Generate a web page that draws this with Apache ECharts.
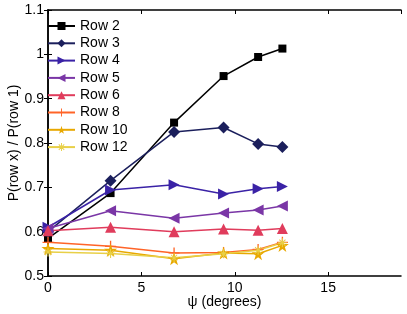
<!DOCTYPE html>
<html><head><meta charset="utf-8">
<script src="https://cdn.jsdelivr.net/npm/echarts@6/dist/echarts.min.js"></script>
<style>html,body{margin:0;padding:0;background:#fff}#c{width:407px;height:314px}</style>
</head><body><div id="c"></div>
<script>
var psi = [0, 3.35, 6.75, 9.4, 11.25, 12.55];
var row2 = [0.585, 0.687, 0.846, 0.951, 0.994, 1.013];
var row3 = [0.600, 0.715, 0.825, 0.835, 0.798, 0.791];
var row4 = [0.610, 0.694, 0.706, 0.685, 0.697, 0.702];
var row5 = [0.607, 0.647, 0.630, 0.642, 0.649, 0.658];
var row6 = [0.602, 0.610, 0.600, 0.606, 0.603, 0.607];
var row8 = [0.576, 0.567, 0.552, 0.553, 0.560, 0.576];
var row10 = [0.562, 0.558, 0.539, 0.552, 0.550, 0.569];
var row12 = [0.554, 0.551, 0.541, 0.550, 0.558, 0.575];
var names = ['Row 2','Row 3','Row 4','Row 5','Row 6','Row 8','Row 10','Row 12'];
var xTicks = [0, 5, 10, 15];
var yTicks = [0.5, 0.6, 0.7, 0.8, 0.9, 1, 1.1];

var STAR = 'path://M50,0L61,35L98,35L68,57L79,91L50,70L21,91L32,57L2,35L39,35Z';
var PLUS = 'path://M4.4,0H5.6V4.4H10V5.6H5.6V10H4.4V5.6H0V4.4H4.4Z';
var AST = 'path://M4.4,0H5.6V4.4H10V5.6H5.6V10H4.4V5.6H0V4.4H4.4ZM1.2,2L2,1.2L8.8,8L8,8.8ZM8,1.2L8.8,2L2,8.8L1.2,8Z';
var styles = [
  {c:'#000000', s:'rect', z:8, r:0},
  {c:'#1b1f5c', s:'diamond', z:12, r:0},
  {c:'#3a22a6', s:'triangle', z:11, r:-90},
  {c:'#7a36a6', s:'triangle', z:11, r:90},
  {c:'#e03c5c', s:'triangle', z:11, r:0},
  {c:'#ff6428', s:PLUS, z:11, r:0},
  {c:'#e8a800', s:STAR, z:13, r:0},
  {c:'#e8d048', s:AST, z:9, r:0}
];
var data = [row2,row3,row4,row5,row6,row8,row10,row12];

var series = data.map(function(arr, i){
  var st = styles[i];
  return {
    name: names[i], type:'line', clip:false,
    data: psi.map(function(x,j){return [x, arr[j]];}),
    symbol: st.s, symbolSize: st.z, symbolRotate: st.r,
    lineStyle:{color:st.c, width:1.5},
    itemStyle:{color:st.c},
    emphasis:{disabled:true}
  };
});

var font = 'Liberation Sans, Arial, Helvetica, sans-serif';
var chart = echarts.init(document.getElementById('c'));
chart.setOption({
  animation:false,
  textStyle:{fontFamily:font},
  grid:{left:48, right:6, top:10, bottom:38, containLabel:false, outerBoundsMode:'none'},
  legend:{
    orient:'vertical', left:47, top:19, padding:0, itemWidth:27, itemHeight:10, itemGap:3.3,
    textStyle:{fontSize:14, color:'#000', fontFamily:font},
    data:names
  },
  xAxis:[{
    type:'value', min:0, max:18.9, interval:5,
    name:'ψ (degrees)', nameLocation:'middle', nameGap:19, nameMoveOverlap:false,
    nameTextStyle:{fontSize:14, color:'#000'},
    axisLine:{lineStyle:{color:'#000', width:1.5}},
    axisTick:{inside:true, length:4, lineStyle:{color:'#000'}},
    axisLabel:{fontSize:14, color:'#000', margin:5, showMaxLabel:false,
      formatter:function(v){return xTicks.indexOf(v)>=0 ? String(v) : '';}},
    splitLine:{show:false}
  },{
    type:'value', position:'top', min:0, max:18.9, interval:5,
    axisLine:{lineStyle:{color:'#000', width:1.5}},
    axisTick:{inside:true, length:4, lineStyle:{color:'#000'}},
    axisLabel:{show:false}, splitLine:{show:false}
  }],
  yAxis:[{
    type:'value', min:0.5, max:1.1, interval:0.1,
    name:'P(row x) / P(row 1)', nameLocation:'middle', nameGap:27, nameMoveOverlap:false,
    nameTextStyle:{fontSize:14, color:'#000'},
    axisLine:{lineStyle:{color:'#000', width:1.5}},
    axisTick:{inside:true, length:4, lineStyle:{color:'#000'}},
    axisLabel:{fontSize:14, color:'#000', margin:4,
      formatter:function(v){return String(Math.round(v*10)/10);}},
    splitLine:{show:false}
  },{
    type:'value', position:'right', min:0.5, max:1.1, interval:0.1,
    axisLine:{lineStyle:{color:'#000', width:1.5}},
    axisTick:{inside:true, length:4, lineStyle:{color:'#000'}},
    axisLabel:{show:false}, splitLine:{show:false}
  }],
  series: series
});
</script></body></html>
